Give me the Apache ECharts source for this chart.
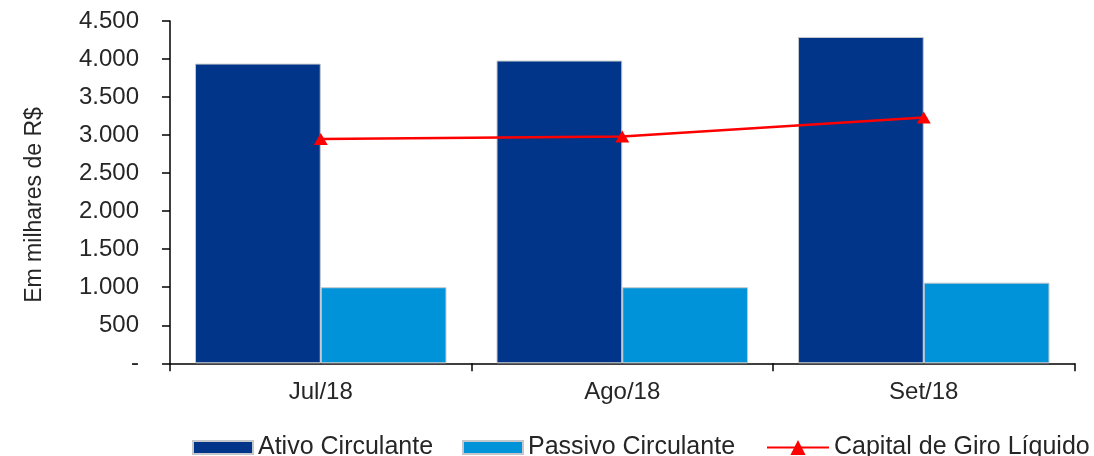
<!DOCTYPE html>
<html>
<head>
<meta charset="utf-8">
<script src="https://cdn.jsdelivr.net/npm/echarts@6/dist/echarts.min.js"></script>
<style>
  html, body { margin: 0; padding: 0; background: #fff; }
  #chart { width: 1094px; height: 456px; }
</style>
</head>
<body>
<div id="chart"></div>
<script>
// Months shown on the category axis
const months = ['Jul/18', 'Ago/18', 'Set/18'];
// Values in thousands of R$
const ativoCirculante = [3940, 3980, 4290];
const passivoCirculante = [1000, 1000, 1060];
const capitalGiroLiquido = [2950, 2980, 3230];
// Value-axis ticks
const yMin = 0;
const yMax = 4500;
const yStep = 500;

const font = 'Liberation Sans, Arial, sans-serif';
const textColor = '#262626';

// Brazilian thousands separator, dash for zero
function fmt(v) {
  if (v === 0) return '-';
  return String(v).replace(/\B(?=(\d{3})+(?!\d))/g, '.');
}

const chart = echarts.init(document.getElementById('chart'), null, { renderer: 'canvas' });

const legendText = { fontFamily: font, fontSize: 25, color: textColor };

chart.setOption({
  animation: false,
  backgroundColor: '#ffffff',
  grid: { left: 170, right: 19.5, top: 21, bottom: 92.7, containLabel: false },
  graphic: [{
    type: 'text',
    x: 35,
    y: 205,
    rotation: Math.PI / 2,
    style: {
      text: 'Em milhares de R$',
      fontFamily: font,
      fontSize: 23,
      fill: textColor,
      textAlign: 'center',
      textVerticalAlign: 'middle'
    }
  }],
  legend: [
    {
      left: 187, top: 430, itemWidth: 60, itemHeight: 13, icon: 'rect',
      data: ['Ativo Circulante'], textStyle: legendText
    },
    {
      left: 457, top: 430, itemWidth: 60, itemHeight: 13, icon: 'rect',
      data: ['Passivo Circulante'], textStyle: legendText
    },
    {
      left: 761, top: 430, itemWidth: 62, itemHeight: 19,
      data: ['Capital de Giro Líquido'], textStyle: legendText
    }
  ],
  xAxis: {
    type: 'category',
    data: months,
    boundaryGap: true,
    axisLine: { show: true, lineStyle: { color: '#000', width: 1.5 } },
    axisTick: { show: true, alignWithLabel: false, length: 8, lineStyle: { color: '#000', width: 1.5 } },
    axisLabel: { fontFamily: font, fontSize: 24, color: textColor, margin: 17 }
  },
  yAxis: {
    type: 'value',
    min: yMin,
    max: yMax,
    interval: yStep,
    splitLine: { show: false },
    axisLine: { show: true, lineStyle: { color: '#000', width: 1.5 } },
    axisTick: { show: true, inside: false, length: 8, lineStyle: { color: '#000', width: 1.5 } },
    axisLabel: {
      fontFamily: font, fontSize: 24, color: textColor, margin: 31,
      formatter: fmt
    }
  },
  series: [
    {
      name: 'Ativo Circulante',
      type: 'bar',
      data: ativoCirculante,
      barGap: '0%',
      barCategoryGap: '16.6%',
      itemStyle: { color: '#00358a', borderColor: '#c4c8cc', borderWidth: 1 }
    },
    {
      name: 'Passivo Circulante',
      type: 'bar',
      data: passivoCirculante,
      barGap: '0%',
      barCategoryGap: '16.6%',
      itemStyle: { color: '#0093d9', borderColor: '#c4c8cc', borderWidth: 1 }
    },
    {
      name: 'Capital de Giro Líquido',
      type: 'line',
      data: capitalGiroLiquido,
      symbol: 'triangle',
      symbolSize: [14, 12],
      showAllSymbol: true,
      lineStyle: { color: '#ff0000', width: 2.5 },
      itemStyle: { color: '#ff0000' },
      z: 5
    }
  ]
});
</script>
</body>
</html>
